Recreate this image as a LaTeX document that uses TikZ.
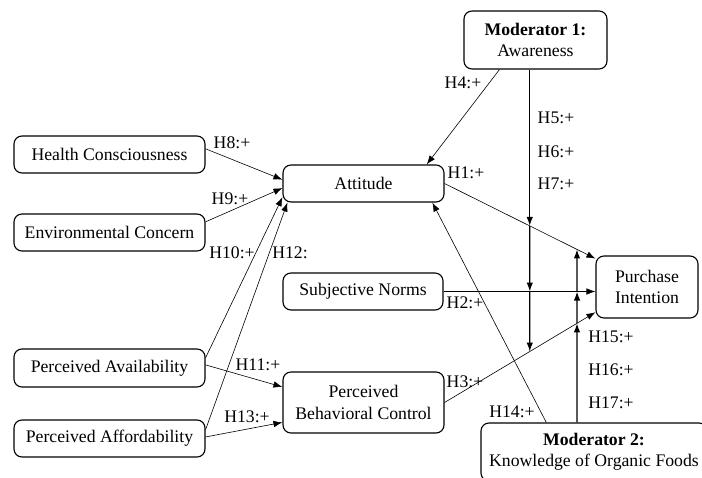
\documentclass[tikz,border=0pt]{standalone}
\usepackage{fontspec}
\setmainfont{Liberation Serif}
\usetikzlibrary{arrows.meta,positioning,calc}

\tikzset{
  box/.style={draw,rounded corners=8pt,line width=1.1pt,align=center,inner sep=0pt,
    minimum width=161pt,minimum height=37pt,font=\fontsize{17.7}{21.5}\selectfont},
  arr/.style={-{Latex[length=9pt,width=6.5pt]},line width=0.6pt},
  modarr/.style={arr,line width=1.3pt},
  lbl/.style={font=\fontsize{17.7}{21.5}\selectfont,inner sep=0pt}
}

\begin{document}
\begin{tikzpicture}[x=1pt,y=-1pt]
        \clip (0,0) rectangle (702,477);
        % constructs
        \node[box,minimum width=191pt] (hc) at (109.5,154.5) {Health Consciousness};
        \node[box,minimum width=191pt] (ec) at (109.5,232.5) {Environmental Concern};
        \node[box,minimum width=191pt,minimum height=38pt] (pavail) at (109.5,368) {Perceived Availability};
        \node[box,minimum width=191pt] (pafford) at (109.5,438.5) {Perceived Affordability};
        \node[box] (att) at (363.5,183.5) {Attitude};
        \node[box,minimum width=160pt] (sn) at (363,291.5) {Subjective Norms};
        \node[box,minimum height=61pt] (pbc) at (363.5,402.5) {Perceived\\Behavioral Control};
        \node[box,minimum width=102pt,minimum height=62pt] (pi) at (647,287) {Purchase\\Intention};
        \node[box,minimum width=143pt,minimum height=58pt] (modone) at (535.5,40) {\textbf{Moderator 1:}\\Awareness};
        \node[box,minimum width=226pt,minimum height=58pt] (modtwo) at (594,452) {\textbf{Moderator 2:}\\Knowledge of Organic Foods};

        % end points on the boxes
        \coordinate (atte) at (att.east);
        \coordinate (pione) at ($(pi.north west)!0.05!(pi.south west)$);
        \coordinate (pbce) at (pbc.east);
        \coordinate (pithree) at ($(pi.north west)!0.9!(pi.south west)$);
        \coordinate (sne) at (sn.east);
        \coordinate (pitwo) at (sn.east -| pi.west);
        \coordinate (mones) at ($(modone.south west)!0.46!(modone.south east)$);
        \coordinate (monee) at ($(mones)+(0,400)$);
        \coordinate (mtwos) at ($(modtwo.north west)!0.425!(modtwo.north east)$);
        \coordinate (mtwoe) at ($(mtwos)+(0,-400)$);
        \coordinate (aone) at (intersection of atte--pione and mones--monee);
        \coordinate (atwo) at (intersection of sne--pitwo and mones--monee);
        \coordinate (athree) at (intersection of pbce--pithree and mones--monee);
        \coordinate (bone) at (intersection of atte--pione and mtwos--mtwoe);
        \coordinate (btwo) at (intersection of sne--pitwo and mtwos--mtwoe);
        \coordinate (bthree) at (intersection of pbce--pithree and mtwos--mtwoe);

        % paths
        \draw[arr] ($(hc.north east)!0.35!(hc.south east)$) -- ($(att.north west)!0.4!(att.south west)$);
        \draw[arr] ($(ec.north east)!0.22!(ec.south east)$) -- ($(att.north west)!0.62!(att.south west)$);
        \draw[arr] ($(pavail.north east)!0.24!(pavail.south east)$) -- ($(att.north west)!0.86!(att.south west)$);
        \draw[arr] ($(pafford.north east)!0.27!(pafford.south east)$) -- ($(att.south west)+(5,0)$);
        \draw[arr] ($(pavail.north east)!0.42!(pavail.south east)$) -- ($(pbc.north west)!0.25!(pbc.south west)$);
        \draw[arr] ($(pafford.north east)!0.46!(pafford.south east)$) -- ($(pbc.north west)!0.82!(pbc.south west)$);
        \draw[arr] (atte) -- (pione);
        \draw[arr] (sne) -- (pitwo);
        \draw[arr] (pbce) -- (pithree);
        \draw[arr] ($(modone.south west)!0.25!(modone.south east)$) -- ($(att.north west)!0.89!(att.north east)$);
        \draw[arr] ($(modtwo.north west)!0.29!(modtwo.north east)$) -- ($(att.south west)!0.925!(att.south east)$);

        % moderating effects
        \draw[modarr] (mones) -- (aone);
        \draw[modarr] (aone) -- (atwo);
        \draw[modarr] (atwo) -- (athree);
        \draw[modarr] (mtwos) -- (bthree);
        \draw[modarr] (bthree) -- (btwo);
        \draw[modarr] (btwo) -- (bone);

        % hypotheses
        \node[lbl] (hone) at (466,173) {H1:+};
        \node[lbl] (htwo) at (465,303) {H2:+};
        \node[lbl] (hthree) at (465,382) {H3:+};
        \node[lbl] (hfour) at (463,83) {H4:+};
        \node[lbl] (hfive) at (556,118) {H5:+};
        \node[lbl] (hsix) at (556,152) {H6:+};
        \node[lbl] (hseven) at (556,184) {H7:+};
        \node[lbl] (height) at (232,143) {H8:+};
        \node[lbl] (hnine) at (230,199) {H9:+};
        \node[lbl] (hten) at (232,253) {H10:+};
        \node[lbl] (heleven) at (258,365) {H11:+};
        \node[lbl] (htwelve) at (290,253) {H12:};
        \node[lbl] (hthirteen) at (247,417) {H13:+};
        \node[lbl] (hfourteen) at (512,412) {H14:+};
        \node[lbl] (hfifteen) at (611,337) {H15:+};
        \node[lbl] (hsixteen) at (611,370) {H16:+};
        \node[lbl] (hseventeen) at (611,403) {H17:+};
      \end{tikzpicture}
\end{document}
